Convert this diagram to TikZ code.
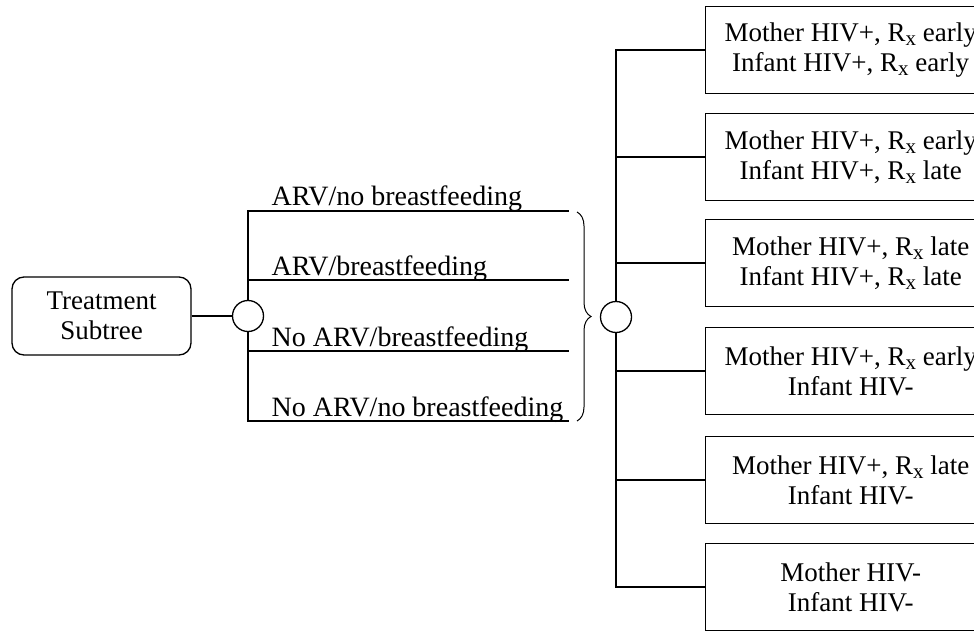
\documentclass[tikz,border=0pt]{standalone}
\usepackage{fontspec}
\setmainfont{Liberation Serif}
\usetikzlibrary{%
        decorations.pathreplacing,
        positioning
    }
\newcommand{\rxsub}{R\raisebox{-4pt}{\fontsize{21}{21}\selectfont x}}
\tikzset{%
    treebox/.style={%
        draw, line width=1.3pt, rounded corners=12pt, align=center,
        minimum width=179pt, minimum height=78pt
    },
    outcome/.style={%
        draw, line width=1.3pt, align=center, anchor=west,
        minimum width=290pt, minimum height=87pt
    },
    chance/.style={%
        draw, circle, line width=1.3pt, minimum size=31pt, inner sep=0pt
    },
    branch/.style={%
        anchor=base west, inner sep=0pt, font=\fontsize{28}{30}\selectfont
    }
}

\begin{document}
\begin{tikzpicture}[x=1pt, y=-1pt, line width=1.3pt,
        font=\fontsize{27}{30}\selectfont]

    \clip (0, 0) rectangle (974, 631);

    % Treatment subtree
    \node[treebox] (subtree) at (101.5, 316) {Treatment\\Subtree};
    \node[chance] (arv) at (248, 316) {};
    \draw (subtree) -- (arv);

    % Strategies
    \coordinate (s1) at (569, 211);
    \coordinate (s2) at (569, 280);
    \coordinate (s3) at (569, 351);
    \coordinate (s4) at (569, 421);

    \draw (arv.north) |- (s1);
    \draw (arv.north) |- (s2);
    \draw (arv.south) |- (s3);
    \draw (arv.south) |- (s4);

    \node[branch] (l1) at (271, 206) {ARV/no breastfeeding};
    \node[branch] (l2) at (271, 275) {ARV/breastfeeding};
    \node[branch] (l3) at (271, 346) {No ARV/breastfeeding};
    \node[branch] (l4) at (271, 416) {No ARV/no breastfeeding};

    % Brace
    \coordinate (brace-top) at (577, 212);
    \coordinate (brace-bot) at (577, 421);
    \draw[line width=1pt, decorate, decoration={brace, amplitude=14pt}]
        (brace-top) -- (brace-bot);

    % Outcomes
    \node[chance] (hiv) at (616, 317) {};

    \node[outcome] (o1) at (705, 50)
        {Mother HIV+, \rxsub{} early\\Infant HIV+, \rxsub{} early};
    \node[outcome] (o2) at (705, 157)
        {Mother HIV+, \rxsub{} early\\Infant HIV+, \rxsub{} late};
    \node[outcome] (o3) at (705, 263)
        {Mother HIV+, \rxsub{} late\\Infant HIV+, \rxsub{} late};
    \node[outcome] (o4) at (705, 371)
        {Mother HIV+, \rxsub{} early\\Infant HIV-};
    \node[outcome] (o5) at (705, 480)
        {Mother HIV+, \rxsub{} late\\Infant HIV-};
    \node[outcome] (o6) at (705, 587)
        {Mother HIV-\\Infant HIV-};

    \draw (hiv.north) |- (o1.west);
    \draw (hiv.north) |- (o2.west);
    \draw (hiv.north) |- (o3.west);
    \draw (hiv.south) |- (o4.west);
    \draw (hiv.south) |- (o5.west);
    \draw (hiv.south) |- (o6.west);

\end{tikzpicture}
\end{document}
